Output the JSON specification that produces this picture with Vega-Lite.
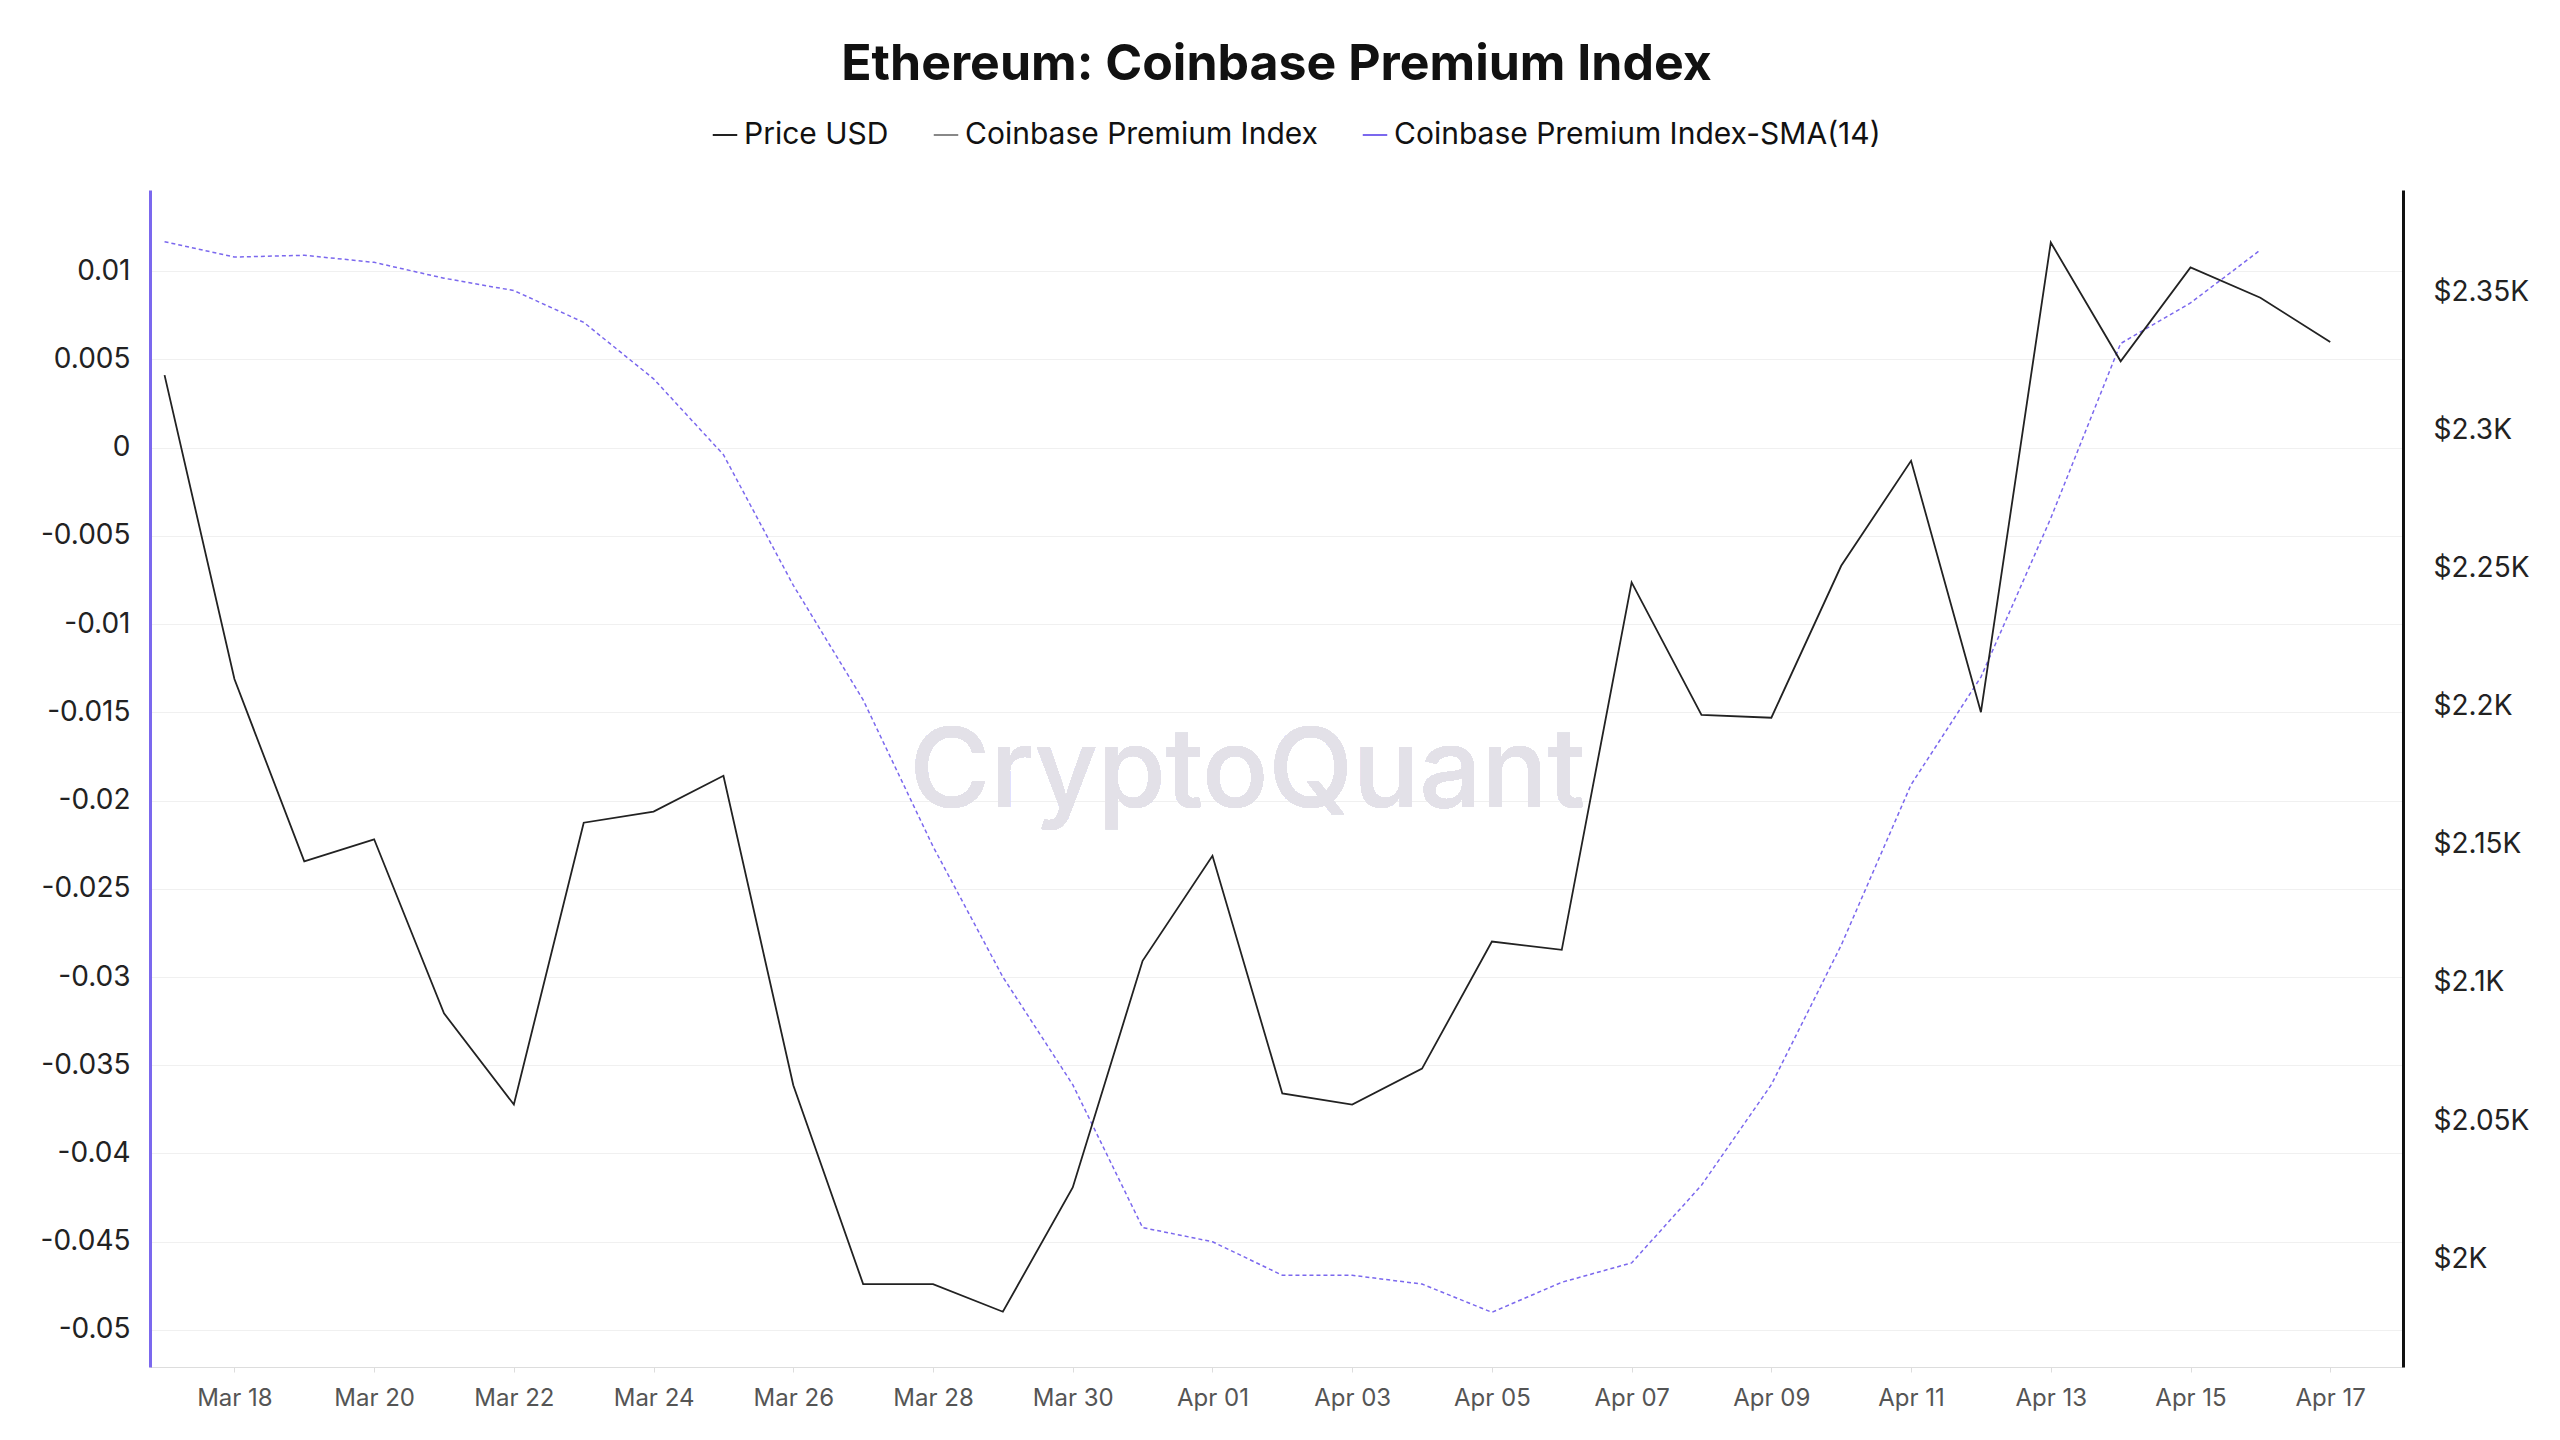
{
  "$schema": "https://vega.github.io/schema/vega-lite/v6.json",
  "width": 2560,
  "height": 1440,
  "autosize": {"type": "fit", "contains": "padding"},
  "padding": {"left": 40, "right": 30, "top": 40, "bottom": 30},
  "background": "white",
  "config": {
    "font": "Inter",
    "view": {"stroke": null},
    "axis": {"labelFont": "Inter", "labelFontSize": 28, "labelColor": "#222", "titleFontSize": 0}
  },
  "title": {"text": "Ethereum: Coinbase Premium Index", "fontSize": 50, "fontWeight": "bold", "color": "#111", "offset": 100},
  "data": {"values": [
    {"date": "2025-03-17", "price": 2320, "sma": 0.01167},
    {"date": "2025-03-18", "price": 2210, "sma": 0.0108},
    {"date": "2025-03-19", "price": 2144, "sma": 0.0109},
    {"date": "2025-03-20", "price": 2152, "sma": 0.0105},
    {"date": "2025-03-21", "price": 2089, "sma": 0.0096},
    {"date": "2025-03-22", "price": 2056, "sma": 0.0089},
    {"date": "2025-03-23", "price": 2158, "sma": 0.0071},
    {"date": "2025-03-24", "price": 2162, "sma": 0.0039},
    {"date": "2025-03-25", "price": 2175, "sma": -0.0004},
    {"date": "2025-03-26", "price": 2063, "sma": -0.0078},
    {"date": "2025-03-27", "price": 1991, "sma": -0.0143},
    {"date": "2025-03-28", "price": 1991, "sma": -0.0226},
    {"date": "2025-03-29", "price": 1981, "sma": -0.03},
    {"date": "2025-03-30", "price": 2026, "sma": -0.0361},
    {"date": "2025-03-31", "price": 2108, "sma": -0.0442},
    {"date": "2025-04-01", "price": 2146, "sma": -0.045},
    {"date": "2025-04-02", "price": 2060, "sma": -0.0469},
    {"date": "2025-04-03", "price": 2056, "sma": -0.0469},
    {"date": "2025-04-04", "price": 2069, "sma": -0.0474},
    {"date": "2025-04-05", "price": 2115, "sma": -0.049},
    {"date": "2025-04-06", "price": 2112, "sma": -0.0473},
    {"date": "2025-04-07", "price": 2245, "sma": -0.0462},
    {"date": "2025-04-08", "price": 2197, "sma": -0.0418},
    {"date": "2025-04-09", "price": 2196, "sma": -0.0361},
    {"date": "2025-04-10", "price": 2251, "sma": -0.0282},
    {"date": "2025-04-11", "price": 2289, "sma": -0.0191},
    {"date": "2025-04-12", "price": 2198, "sma": -0.013},
    {"date": "2025-04-13", "price": 2368, "sma": -0.004},
    {"date": "2025-04-14", "price": 2325, "sma": 0.0059},
    {"date": "2025-04-15", "price": 2359, "sma": 0.0082},
    {"date": "2025-04-16", "price": 2348, "sma": 0.0112},
    {"date": "2025-04-17", "price": 2332, "sma": null}
  ]},
  "encoding": {
    "x": {
      "field": "date", "type": "temporal",
      "scale": {"domain": [{"year": 2025, "month": 3, "date": 16, "hours": 19}, {"year": 2025, "month": 4, "date": 18, "hours": 1}]},
      "axis": {"format": "%b %d", "values": [
        {"year": 2025, "month": 3, "date": 18}, {"year": 2025, "month": 3, "date": 20}, {"year": 2025, "month": 3, "date": 22},
        {"year": 2025, "month": 3, "date": 24}, {"year": 2025, "month": 3, "date": 26}, {"year": 2025, "month": 3, "date": 28},
        {"year": 2025, "month": 3, "date": 30}, {"year": 2025, "month": 4, "date": 1}, {"year": 2025, "month": 4, "date": 3},
        {"year": 2025, "month": 4, "date": 5}, {"year": 2025, "month": 4, "date": 7}, {"year": 2025, "month": 4, "date": 9},
        {"year": 2025, "month": 4, "date": 11}, {"year": 2025, "month": 4, "date": 13}, {"year": 2025, "month": 4, "date": 15},
        {"year": 2025, "month": 4, "date": 17}],
        "grid": false, "domainColor": "#ddd", "tickColor": "#ddd", "labelColor": "#555", "labelFontSize": 24, "labelPadding": 14, "title": null}
    }
  },
  "layer": [
    {
      "mark": {"type": "text", "fontSize": 110, "color": "#e3e1e8", "fontWeight": 500},
      "encoding": {"text": {"value": "CryptoQuant"}, "x": {"datum": {"year": 2025, "month": 4, "date": 1, "hours": 12}, "type": "temporal"}, "y": {"datum": -0.0185, "type": "quantitative", "scale": {"domain": [-0.0521, 0.0146], "nice": false}, "axis": null}}
    },
    {
      "mark": {"type": "rule", "strokeDash": [6, 4], "color": "#bbb", "strokeWidth": 1.5},
      "encoding": {"y": {"datum": 0, "type": "quantitative", "scale": {"domain": [-0.0521, 0.0146], "nice": false}, "axis": null}}
    },
    {
      "mark": {"type": "line", "strokeDash": [4, 3], "strokeWidth": 1.5},
      "encoding": {
        "y": {"field": "sma", "type": "quantitative", "scale": {"domain": [-0.0521, 0.0146], "nice": false},
          "axis": {"values": [0.01, 0.005, 0, -0.005, -0.01, -0.015, -0.02, -0.025, -0.03, -0.035, -0.04, -0.045, -0.05], "labelExpr": "datum.value == 0 ? '0' : replace(format(datum.value, '~g'), '−', '-')", "grid": true, "gridColor": "#f0f0f0", "domainColor": "#7b68ee", "domainWidth": 3, "ticks": false, "labelPadding": 20, "title": null}},
        "color": {"datum": "Coinbase Premium Index-SMA(14)", "type": "nominal"}
      }
    },
    {
      "mark": {"type": "line", "strokeWidth": 1.8},
      "encoding": {
        "y": {"field": "price", "type": "quantitative", "scale": {"domain": [1961, 2387], "nice": false},
          "axis": {"orient": "right", "values": [2000, 2050, 2100, 2150, 2200, 2250, 2300, 2350], "labelExpr": "'$' + format(datum.value / 1000, '.3~') + 'K'", "grid": false, "domainColor": "#111", "domainWidth": 3, "ticks": false, "labelPadding": 30, "title": null}},
        "color": {"datum": "Price USD", "type": "nominal",
          "scale": {"domain": ["Price USD", "Coinbase Premium Index", "Coinbase Premium Index-SMA(14)"], "range": ["#222", "#888", "#7b68ee"]},
          "legend": {"orient": "none", "legendX": 560, "legendY": -70, "direction": "horizontal", "labelLimit": 600, "title": null, "symbolType": "stroke", "symbolSize": 600, "symbolStrokeWidth": 2, "labelFontSize": 30, "labelColor": "#111", "columnPadding": 40}}
      }
    }
  ],
  "resolve": {"scale": {"y": "independent"}}
}
